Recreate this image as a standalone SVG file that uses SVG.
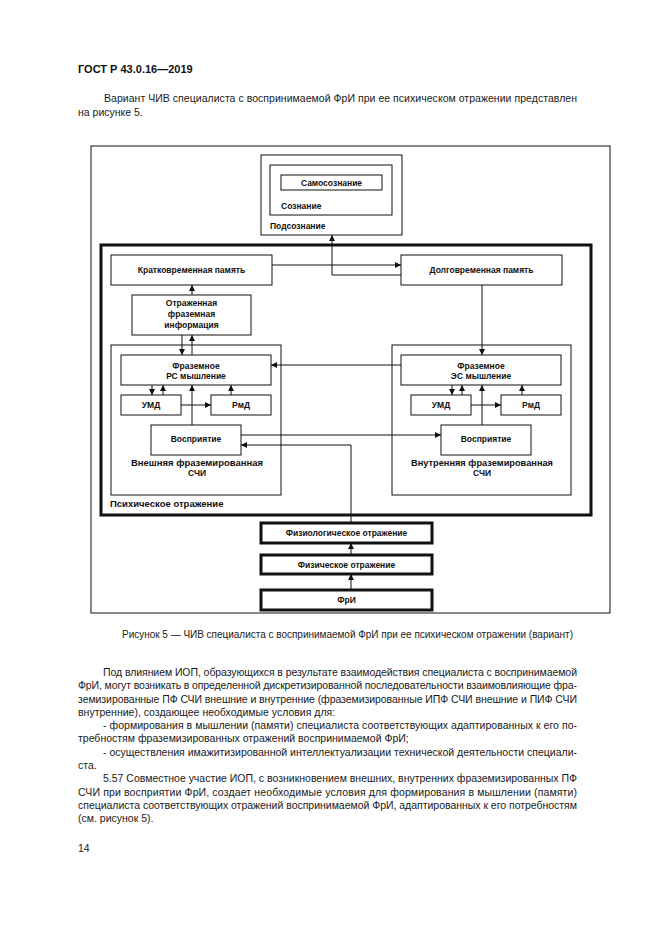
<svg xmlns="http://www.w3.org/2000/svg" width="661" height="935" viewBox="0 0 661 935">
<style>
.pg{font-family:"Liberation Sans",Arial,sans-serif;font-size:10.5px;fill:#1a1a1a}
.hd{font-family:"Liberation Sans",Arial,sans-serif;font-size:11px;font-weight:bold;fill:#111}
.cap{font-family:"Liberation Sans",Arial,sans-serif;font-size:10px;fill:#222}
.lb{font-family:"Liberation Sans",Arial,sans-serif;font-size:8.5px;font-weight:bold;fill:#111}
.lbc{font-family:"Liberation Sans",Arial,sans-serif;font-size:8.5px;font-weight:bold;fill:#111;text-anchor:middle}
.bx{fill:none;stroke:#111;stroke-width:1}
.tk{fill:none;stroke:#111;stroke-width:3}
.cn{fill:none;stroke:#111;stroke-width:1}
</style>
<defs>
<marker id="ar" markerUnits="userSpaceOnUse" markerWidth="7" markerHeight="7" refX="6" refY="3" orient="auto">
<path d="M0,0 L6,3 L0,6 Z" fill="#111"/>
</marker>
</defs>
<rect width="661" height="935" fill="#fff"/>

<text class="hd" x="78" y="73">ГОСТ Р 43.0.16—2019</text>
<text class="pg" x="104" y="102" textLength="473" lengthAdjust="spacing">Вариант ЧИВ специалиста с воспринимаемой ФрИ при ее психическом отражении представлен</text>
<text class="pg" x="78" y="116">на рисунке 5.</text>

<rect class="bx" x="91" y="146" width="519" height="467"/>

<g id="podsoznanie">
<rect class="bx" x="261" y="155" width="141" height="80"/>
<text class="lb" x="270" y="229">Подсознание</text>
</g>
<g id="soznanie">
<rect class="bx" x="270" y="165" width="122" height="50"/>
<text class="lb" x="281" y="209">Сознание</text>
</g>
<g id="samosoznanie">
<rect class="bx" x="281" y="175" width="101" height="15"/>
<text class="lbc" x="331.5" y="185.5">Самосознание</text>
</g>

<g id="psikhicheskoe">
<rect class="tk" x="101" y="245" width="490" height="270"/>
<text class="lb" x="110" y="507" style="font-size:9.5px">Психическое отражение</text>
</g>

<g id="kratkovremennaya">
<rect class="bx" x="111" y="255" width="161" height="30"/>
<text class="lbc" x="191.5" y="273">Кратковременная память</text>
</g>
<g id="dolgovremennaya">
<rect class="bx" x="401" y="255" width="161" height="30"/>
<text class="lbc" x="481.5" y="273">Долговременная память</text>
</g>
<g id="otrazhennaya">
<rect class="bx" x="132" y="295" width="119" height="40"/>
<text class="lbc" x="191.5" y="306">Отраженная</text>
<text class="lbc" x="191.5" y="317">фраземная</text>
<text class="lbc" x="191.5" y="328">информация</text>
</g>

<g id="vneshnyaya">
<rect class="bx" x="111" y="345" width="170" height="150"/>
<text class="lbc" x="197" y="466" textLength="132" lengthAdjust="spacingAndGlyphs">Внешняя фраземированная</text>
<text class="lbc" x="197" y="476">СЧИ</text>
</g>
<g id="rs-myshlenie">
<rect class="bx" x="121" y="355" width="150" height="30"/>
<text class="lbc" x="196" y="369">Фраземное</text>
<text class="lbc" x="196" y="379">РС мышление</text>
</g>
<g id="umd-left">
<rect class="bx" x="121" y="395" width="60" height="20"/>
<text class="lbc" x="151" y="408">УМД</text>
</g>
<g id="rmd-left">
<rect class="bx" x="211" y="395" width="60" height="20"/>
<text class="lbc" x="241" y="408">РмД</text>
</g>
<g id="vospriyatie-left">
<rect class="bx" x="151" y="425" width="90" height="30"/>
<text class="lbc" x="196" y="442">Восприятие</text>
</g>

<g id="vnutrennyaya">
<rect class="bx" x="392" y="345" width="179" height="150"/>
<text class="lbc" x="482" y="466" textLength="142" lengthAdjust="spacingAndGlyphs">Внутренняя фраземированная</text>
<text class="lbc" x="482" y="476">СЧИ</text>
</g>
<g id="es-myshlenie">
<rect class="bx" x="401" y="355" width="160" height="30"/>
<text class="lbc" x="481" y="369">Фраземное</text>
<text class="lbc" x="481" y="379">ЭС мышление</text>
</g>
<g id="umd-right">
<rect class="bx" x="411" y="395" width="60" height="20"/>
<text class="lbc" x="441" y="408">УМД</text>
</g>
<g id="rmd-right">
<rect class="bx" x="501" y="395" width="60" height="20"/>
<text class="lbc" x="531" y="408">РмД</text>
</g>
<g id="vospriyatie-right">
<rect class="bx" x="441" y="425" width="90" height="30"/>
<text class="lbc" x="486" y="442">Восприятие</text>
</g>

<g id="fiziologicheskoe">
<rect class="tk" x="261" y="523" width="171" height="20"/>
<text class="lbc" x="346.5" y="536">Физиологическое отражение</text>
</g>
<g id="fizicheskoe">
<rect class="tk" x="261" y="555" width="171" height="19"/>
<text class="lbc" x="346.5" y="567.5">Физическое отражение</text>
</g>
<g id="fri">
<rect class="tk" x="261" y="590" width="171" height="20"/>
<text class="lbc" x="346.5" y="603">ФрИ</text>
</g>

<g id="connectors">
<path class="cn" d="M272,265 H401" marker-end="url(#ar)"/>
<path class="cn" d="M401,275 H332 V235" marker-end="url(#ar)"/>
<path class="cn" d="M482,285 V355" marker-end="url(#ar)"/>
<path class="cn" d="M192,295 V285" marker-end="url(#ar)"/>
<path class="cn" d="M182,335 V355" marker-end="url(#ar)"/>
<path class="cn" d="M192,355 V335" marker-end="url(#ar)"/>
<path class="cn" d="M401,365 H271" marker-end="url(#ar)"/>
<path class="cn" d="M152,385 V395" marker-end="url(#ar)"/>
<path class="cn" d="M163,395 V385" marker-end="url(#ar)"/>
<path class="cn" d="M181,405 H211" marker-end="url(#ar)"/>
<path class="cn" d="M231,395 V385" marker-end="url(#ar)"/>
<path class="cn" d="M192,425 V385" marker-end="url(#ar)"/>
<path class="cn" d="M241,435 H441" marker-end="url(#ar)"/>
<path class="cn" d="M351,523 V445 H241" marker-end="url(#ar)"/>
<path class="cn" d="M452,385 V395" marker-end="url(#ar)"/>
<path class="cn" d="M462,395 V385" marker-end="url(#ar)"/>
<path class="cn" d="M471,405 H501" marker-end="url(#ar)"/>
<path class="cn" d="M522,395 V385" marker-end="url(#ar)"/>
<path class="cn" d="M482,425 V385" marker-end="url(#ar)"/>
<path class="cn" d="M351,555 V543" marker-end="url(#ar)"/>
<path class="cn" d="M351,590 V574" marker-end="url(#ar)"/>
</g>

<text class="cap" x="122" y="638" textLength="451" lengthAdjust="spacing">Рисунок 5 — ЧИВ специалиста с воспринимаемой ФрИ при ее психическом отражении (вариант)</text>

<text class="pg" x="103" y="676" textLength="474" lengthAdjust="spacing">Под влиянием ИОП, образующихся в результате взаимодействия специалиста с воспринимаемой</text>
<text class="pg" x="78" y="689" textLength="499" lengthAdjust="spacing">ФрИ, могут возникать в определенной дискретизированной последовательности взаимовлияющие фра-</text>
<text class="pg" x="78" y="703" textLength="499" lengthAdjust="spacing">земизированные ПФ СЧИ внешние и внутренние (фраземизированные ИПФ СЧИ внешние и ПИФ СЧИ</text>
<text class="pg" x="78" y="716">внутренние), создающее необходимые условия для:</text>
<text class="pg" x="103" y="729" textLength="474" lengthAdjust="spacing">- формирования в мышлении (памяти) специалиста соответствующих адаптированных к его по-</text>
<text class="pg" x="78" y="742">требностям фраземизированных отражений воспринимаемой ФрИ;</text>
<text class="pg" x="103" y="756" textLength="474" lengthAdjust="spacing">- осуществления имажитизированной интеллектуализации технической деятельности специали-</text>
<text class="pg" x="78" y="769">ста.</text>
<text class="pg" x="103" y="782" textLength="474" lengthAdjust="spacing">5.57 Совместное участие ИОП, с возникновением внешних, внутренних фраземизированных ПФ</text>
<text class="pg" x="78" y="796" textLength="499" lengthAdjust="spacing">СЧИ при восприятии ФрИ, создает необходимые условия для формирования в мышлении (памяти)</text>
<text class="pg" x="78" y="809" textLength="499" lengthAdjust="spacing">специалиста соответствующих отражений воспринимаемой ФрИ, адаптированных к его потребностям</text>
<text class="pg" x="78" y="822">(см. рисунок 5).</text>
<text class="pg" x="78" y="852">14</text>
</svg>
